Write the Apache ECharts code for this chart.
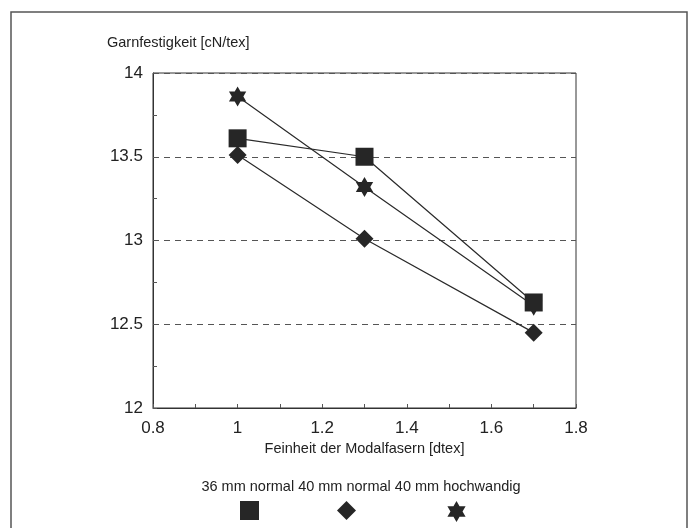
<!DOCTYPE html>
<html>
<head>
<meta charset="utf-8">
<script src="https://cdn.jsdelivr.net/npm/echarts@6/dist/echarts.min.js"></script>
<style>
html,body{margin:0;padding:0;background:#fff;}
#chart{width:694px;height:528px;}
</style>
</head>
<body>
<div id="chart"></div>
<script>
// ---- data ----
var fineness = [1, 1.3, 1.7];
var seriesNames = ['36 mm normal', '40 mm normal', '40 mm hochwandig'];
var normal36 = [13.61, 13.50, 12.63];
var normal40 = [13.51, 13.01, 12.45];
var hochwandig40 = [13.86, 13.32, 12.61];
var yAxisTitle = 'Garnfestigkeit [cN/tex]';
var xAxisTitle = 'Feinheit der Modalfasern [dtex]';

var STAR = 'path://M0,-10 L2.89,-5 L8.66,-5 L5.77,0 L8.66,5 L2.89,5 L0,10 L-2.89,5 L-8.66,5 L-5.77,0 L-8.66,-5 L-2.89,-5 Z';
var FONT = 'Liberation Sans';
var INK = '#262626';

function pairs(vals) { return fineness.map(function (x, i) { return [x, vals[i]]; }); }

var chart = echarts.init(document.getElementById('chart'));

function mkSeries(name, vals, symbol, size, z) {
  return {
    name: name,
    type: 'line',
    data: pairs(vals),
    symbol: symbol,
    symbolSize: size,
    symbolKeepAspect: true,
    showSymbol: true,
    z: z,
    lineStyle: { color: '#2a2a2a', width: 1.2 },
    itemStyle: { color: INK, borderColor: INK, borderWidth: 0 },
    emphasis: { disabled: true },
    animation: false
  };
}

function mkLegend(name, icon, left, w, h) {
  return {
    data: [name],
    left: left,
    top: 501,
    padding: 0,
    itemGap: 0,
    itemWidth: w,
    itemHeight: h,
    icon: icon,
    selectedMode: false,
    formatter: function () { return ''; },
    textStyle: { fontSize: 1 }
  };
}

chart.setOption({
  animation: false,
  backgroundColor: '#fff',
  textStyle: { fontFamily: FONT, color: '#222' },
  grid: {
    left: 153, right: 118, top: 73, bottom: 120,
    show: true, borderColor: '#333', borderWidth: 1, backgroundColor: 'transparent'
  },
  graphic: [
    { type: 'rect', silent: true, shape: { x: 11, y: 12, width: 676, height: 530 },
      style: { fill: 'none', stroke: '#555', lineWidth: 1.5 } },
    { type: 'text', left: 107, top: 35, silent: true,
      style: { text: yAxisTitle, font: '14.5px "Liberation Sans"', fill: '#222' } },
    { type: 'text', x: 361, y: 479, silent: true,
      style: { text: seriesNames.join(' '), font: '14.5px "Liberation Sans"', fill: '#222', textAlign: 'center' } }
  ],
  legend: [
    mkLegend(seriesNames[0], 'rect', 240, 19, 19),
    mkLegend(seriesNames[1], 'diamond', 337, 19, 19),
    mkLegend(seriesNames[2], STAR, 447, 19, 21)
  ],
  xAxis: {
    type: 'value',
    min: 0.8, max: 1.8, interval: 0.2,
    name: xAxisTitle,
    nameLocation: 'middle',
    nameGap: 33,
    nameTextStyle: { fontSize: 14.5, color: '#222', fontFamily: FONT },
    axisLine: { show: true, lineStyle: { color: '#333', width: 1 } },
    axisTick: { show: true, inside: true, length: 4, lineStyle: { color: '#555' } },
    minorTick: { show: true, splitNumber: 2, length: 4, lineStyle: { color: '#555' } },
    splitLine: { show: false },
    axisLabel: {
      fontSize: 17, color: '#222', margin: 12, fontFamily: FONT,
      formatter: function (v) { return String(+v.toFixed(1)); }
    }
  },
  yAxis: {
    type: 'value',
    min: 12, max: 14, interval: 0.5,
    axisLine: { show: true, lineStyle: { color: '#333', width: 1 } },
    axisTick: { show: true, inside: true, length: 4, lineStyle: { color: '#555' } },
    minorTick: { show: true, splitNumber: 2, length: 4, lineStyle: { color: '#555' } },
    splitLine: { show: true, lineStyle: { color: '#555', type: [6, 5], width: 1 } },
    axisLabel: {
      fontSize: 17, color: '#222', margin: 10, fontFamily: FONT, padding: [7, 0, 0, 0],
      formatter: function (v) { return String(+v.toFixed(1)); }
    }
  },
  series: [
    mkSeries(seriesNames[2], hochwandig40, STAR, 20, 2),
    mkSeries(seriesNames[0], normal36, 'rect', 18, 3),
    mkSeries(seriesNames[1], normal40, 'diamond', 18, 4)
  ]
});
</script>
</body>
</html>
